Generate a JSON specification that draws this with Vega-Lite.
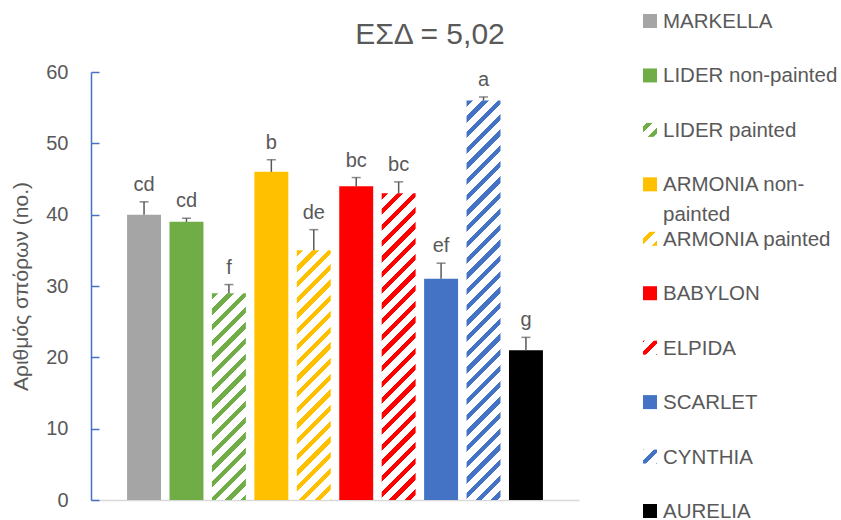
{
  "$schema": "https://vega.github.io/schema/vega-lite/v6.json",
  "background": "white",
  "padding": {"left": 10, "top": 12, "right": 0, "bottom": 0},
  "spacing": 64,
  "config": {"view": {"stroke": null}, "font": "Liberation Sans"},
  "datasets": {
    "bars": [
      {"variety": "MARKELLA", "mean": 40, "upper": 41.8, "group": "cd"},
      {"variety": "LIDER non-painted", "mean": 39, "upper": 39.5, "group": "cd"},
      {"variety": "LIDER painted", "mean": 29, "upper": 30.2, "group": "f"},
      {"variety": "ARMONIA non-painted", "mean": 46, "upper": 47.7, "group": "b"},
      {"variety": "ARMONIA painted", "mean": 35, "upper": 37.9, "group": "de"},
      {"variety": "BABYLON", "mean": 44, "upper": 45.2, "group": "bc"},
      {"variety": "ELPIDA", "mean": 43, "upper": 44.6, "group": "bc"},
      {"variety": "SCARLET", "mean": 31, "upper": 33.2, "group": "ef"},
      {"variety": "CYNTHIA", "mean": 56, "upper": 56.5, "group": "a"},
      {"variety": "AURELIA", "mean": 21, "upper": 22.8, "group": "g"}
    ],
    "legend": [
      {"variety": "MARKELLA", "label": "MARKELLA"},
      {"variety": "LIDER non-painted", "label": "LIDER non-painted"},
      {"variety": "LIDER painted", "label": "LIDER painted"},
      {"variety": "ARMONIA non-painted", "label": "ARMONIA non-\npainted"},
      {"variety": "ARMONIA painted", "label": "ARMONIA painted"},
      {"variety": "BABYLON", "label": "BABYLON"},
      {"variety": "ELPIDA", "label": "ELPIDA"},
      {"variety": "SCARLET", "label": "SCARLET"},
      {"variety": "CYNTHIA", "label": "CYNTHIA"},
      {"variety": "AURELIA", "label": "AURELIA"}
    ]
  },
  "hconcat": [
    {
      "width": 488,
      "height": 428,
      "data": {"name": "bars"},
      "title": {"text": "ΕΣΔ = 5,02", "fontSize": 30, "fontWeight": "normal", "color": "#595959", "anchor": "middle", "dx": 95, "frame": "group", "offset": 12},
      "encoding": {
        "x": {"field": "variety", "type": "nominal", "sort": null,
              "scale": {"type": "band", "paddingInner": 0.2, "paddingOuter": 0.85},
              "axis": {"labels": false, "ticks": false, "title": null, "domainColor": "#D9D9D9", "domainWidth": 1.5}}
      },
      "layer": [
        {
          "mark": {"type": "bar"},
          "encoding": {
            "y": {"field": "mean", "type": "quantitative",
                  "scale": {"domain": [0, 60], "nice": false},
                  "axis": {"values": [0, 10, 20, 30, 40, 50, 60], "grid": false,
                           "domainColor": "#4472C4", "domainWidth": 1.5,
                           "tickColor": "#4472C4", "tickWidth": 1.5, "tickSize": -8,
                           "labelColor": "#595959", "labelFontSize": 20, "labelPadding": 31,
                           "title": "Αριθμός σπόρων (no.)", "titleColor": "#595959", "titleFontSize": 21,
                           "titleFontWeight": "normal", "titlePadding": 14}},
            "fill": {
              "condition": [
                {"test": "datum.variety === 'LIDER painted'", "value": {"gradient": "linear", "x1": 0, "y1": 0, "x2": 0.4851, "y2": 2.9561, "stops": [
                  {"offset":0,"color":"#70AD47"},{"offset":0.01,"color":"#70AD47"},{"offset":0.01,"color":"#ffffff"},{"offset":0.025,"color":"#ffffff"},
                  {"offset":0.025,"color":"#70AD47"},{"offset":0.035,"color":"#70AD47"},{"offset":0.035,"color":"#ffffff"},{"offset":0.05,"color":"#ffffff"},
                  {"offset":0.05,"color":"#70AD47"},{"offset":0.06,"color":"#70AD47"},{"offset":0.06,"color":"#ffffff"},{"offset":0.075,"color":"#ffffff"},
                  {"offset":0.075,"color":"#70AD47"},{"offset":0.085,"color":"#70AD47"},{"offset":0.085,"color":"#ffffff"},{"offset":0.1,"color":"#ffffff"},
                  {"offset":0.1,"color":"#70AD47"},{"offset":0.11,"color":"#70AD47"},{"offset":0.11,"color":"#ffffff"},{"offset":0.125,"color":"#ffffff"},
                  {"offset":0.125,"color":"#70AD47"},{"offset":0.135,"color":"#70AD47"},{"offset":0.135,"color":"#ffffff"},{"offset":0.15,"color":"#ffffff"},
                  {"offset":0.15,"color":"#70AD47"},{"offset":0.16,"color":"#70AD47"},{"offset":0.16,"color":"#ffffff"},{"offset":0.175,"color":"#ffffff"},
                  {"offset":0.175,"color":"#70AD47"},{"offset":0.185,"color":"#70AD47"},{"offset":0.185,"color":"#ffffff"},{"offset":0.2,"color":"#ffffff"},
                  {"offset":0.2,"color":"#70AD47"},{"offset":0.21,"color":"#70AD47"},{"offset":0.21,"color":"#ffffff"},{"offset":0.225,"color":"#ffffff"},
                  {"offset":0.225,"color":"#70AD47"},{"offset":0.235,"color":"#70AD47"},{"offset":0.235,"color":"#ffffff"},{"offset":0.25,"color":"#ffffff"},
                  {"offset":0.25,"color":"#70AD47"},{"offset":0.26,"color":"#70AD47"},{"offset":0.26,"color":"#ffffff"},{"offset":0.275,"color":"#ffffff"},
                  {"offset":0.275,"color":"#70AD47"},{"offset":0.285,"color":"#70AD47"},{"offset":0.285,"color":"#ffffff"},{"offset":0.3,"color":"#ffffff"},
                  {"offset":0.3,"color":"#70AD47"},{"offset":0.31,"color":"#70AD47"},{"offset":0.31,"color":"#ffffff"},{"offset":0.325,"color":"#ffffff"},
                  {"offset":0.325,"color":"#70AD47"},{"offset":0.335,"color":"#70AD47"},{"offset":0.335,"color":"#ffffff"},{"offset":0.35,"color":"#ffffff"},
                  {"offset":0.35,"color":"#70AD47"},{"offset":0.36,"color":"#70AD47"},{"offset":0.36,"color":"#ffffff"},{"offset":0.375,"color":"#ffffff"},
                  {"offset":0.375,"color":"#70AD47"},{"offset":0.385,"color":"#70AD47"},{"offset":0.385,"color":"#ffffff"},{"offset":0.4,"color":"#ffffff"},
                  {"offset":0.4,"color":"#70AD47"},{"offset":0.41,"color":"#70AD47"},{"offset":0.41,"color":"#ffffff"},{"offset":0.425,"color":"#ffffff"}
                ]}},
                {"test": "datum.variety === 'ARMONIA painted'", "value": {"gradient": "linear", "x1": 0, "y1": 0, "x2": 0.3358, "y2": 2.4698, "stops": [
                  {"offset":0,"color":"#FFC000"},{"offset":0.01,"color":"#FFC000"},{"offset":0.01,"color":"#ffffff"},{"offset":0.025,"color":"#ffffff"},
                  {"offset":0.025,"color":"#FFC000"},{"offset":0.035,"color":"#FFC000"},{"offset":0.035,"color":"#ffffff"},{"offset":0.05,"color":"#ffffff"},
                  {"offset":0.05,"color":"#FFC000"},{"offset":0.06,"color":"#FFC000"},{"offset":0.06,"color":"#ffffff"},{"offset":0.075,"color":"#ffffff"},
                  {"offset":0.075,"color":"#FFC000"},{"offset":0.085,"color":"#FFC000"},{"offset":0.085,"color":"#ffffff"},{"offset":0.1,"color":"#ffffff"},
                  {"offset":0.1,"color":"#FFC000"},{"offset":0.11,"color":"#FFC000"},{"offset":0.11,"color":"#ffffff"},{"offset":0.125,"color":"#ffffff"},
                  {"offset":0.125,"color":"#FFC000"},{"offset":0.135,"color":"#FFC000"},{"offset":0.135,"color":"#ffffff"},{"offset":0.15,"color":"#ffffff"},
                  {"offset":0.15,"color":"#FFC000"},{"offset":0.16,"color":"#FFC000"},{"offset":0.16,"color":"#ffffff"},{"offset":0.175,"color":"#ffffff"},
                  {"offset":0.175,"color":"#FFC000"},{"offset":0.185,"color":"#FFC000"},{"offset":0.185,"color":"#ffffff"},{"offset":0.2,"color":"#ffffff"},
                  {"offset":0.2,"color":"#FFC000"},{"offset":0.21,"color":"#FFC000"},{"offset":0.21,"color":"#ffffff"},{"offset":0.225,"color":"#ffffff"},
                  {"offset":0.225,"color":"#FFC000"},{"offset":0.235,"color":"#FFC000"},{"offset":0.235,"color":"#ffffff"},{"offset":0.25,"color":"#ffffff"},
                  {"offset":0.25,"color":"#FFC000"},{"offset":0.26,"color":"#FFC000"},{"offset":0.26,"color":"#ffffff"},{"offset":0.275,"color":"#ffffff"},
                  {"offset":0.275,"color":"#FFC000"},{"offset":0.285,"color":"#FFC000"},{"offset":0.285,"color":"#ffffff"},{"offset":0.3,"color":"#ffffff"},
                  {"offset":0.3,"color":"#FFC000"},{"offset":0.31,"color":"#FFC000"},{"offset":0.31,"color":"#ffffff"},{"offset":0.325,"color":"#ffffff"},
                  {"offset":0.325,"color":"#FFC000"},{"offset":0.335,"color":"#FFC000"},{"offset":0.335,"color":"#ffffff"},{"offset":0.35,"color":"#ffffff"},
                  {"offset":0.35,"color":"#FFC000"},{"offset":0.36,"color":"#FFC000"},{"offset":0.36,"color":"#ffffff"},{"offset":0.375,"color":"#ffffff"},
                  {"offset":0.375,"color":"#FFC000"},{"offset":0.385,"color":"#FFC000"},{"offset":0.385,"color":"#ffffff"},{"offset":0.4,"color":"#ffffff"},
                  {"offset":0.4,"color":"#FFC000"},{"offset":0.41,"color":"#FFC000"},{"offset":0.41,"color":"#ffffff"},{"offset":0.425,"color":"#ffffff"},
                  {"offset":0.425,"color":"#FFC000"},{"offset":0.435,"color":"#FFC000"},{"offset":0.435,"color":"#ffffff"},{"offset":0.45,"color":"#ffffff"},
                  {"offset":0.45,"color":"#FFC000"},{"offset":0.46,"color":"#FFC000"},{"offset":0.46,"color":"#ffffff"},{"offset":0.475,"color":"#ffffff"}
                ]}},
                {"test": "datum.variety === 'ELPIDA'", "value": {"gradient": "linear", "x1": 0, "y1": 0, "x2": 0.2239, "y2": 2.0226, "stops": [
                  {"offset":0,"color":"#FF0000"},{"offset":0.01,"color":"#FF0000"},{"offset":0.01,"color":"#ffffff"},{"offset":0.025,"color":"#ffffff"},
                  {"offset":0.025,"color":"#FF0000"},{"offset":0.035,"color":"#FF0000"},{"offset":0.035,"color":"#ffffff"},{"offset":0.05,"color":"#ffffff"},
                  {"offset":0.05,"color":"#FF0000"},{"offset":0.06,"color":"#FF0000"},{"offset":0.06,"color":"#ffffff"},{"offset":0.075,"color":"#ffffff"},
                  {"offset":0.075,"color":"#FF0000"},{"offset":0.085,"color":"#FF0000"},{"offset":0.085,"color":"#ffffff"},{"offset":0.1,"color":"#ffffff"},
                  {"offset":0.1,"color":"#FF0000"},{"offset":0.11,"color":"#FF0000"},{"offset":0.11,"color":"#ffffff"},{"offset":0.125,"color":"#ffffff"},
                  {"offset":0.125,"color":"#FF0000"},{"offset":0.135,"color":"#FF0000"},{"offset":0.135,"color":"#ffffff"},{"offset":0.15,"color":"#ffffff"},
                  {"offset":0.15,"color":"#FF0000"},{"offset":0.16,"color":"#FF0000"},{"offset":0.16,"color":"#ffffff"},{"offset":0.175,"color":"#ffffff"},
                  {"offset":0.175,"color":"#FF0000"},{"offset":0.185,"color":"#FF0000"},{"offset":0.185,"color":"#ffffff"},{"offset":0.2,"color":"#ffffff"},
                  {"offset":0.2,"color":"#FF0000"},{"offset":0.21,"color":"#FF0000"},{"offset":0.21,"color":"#ffffff"},{"offset":0.225,"color":"#ffffff"},
                  {"offset":0.225,"color":"#FF0000"},{"offset":0.235,"color":"#FF0000"},{"offset":0.235,"color":"#ffffff"},{"offset":0.25,"color":"#ffffff"},
                  {"offset":0.25,"color":"#FF0000"},{"offset":0.26,"color":"#FF0000"},{"offset":0.26,"color":"#ffffff"},{"offset":0.275,"color":"#ffffff"},
                  {"offset":0.275,"color":"#FF0000"},{"offset":0.285,"color":"#FF0000"},{"offset":0.285,"color":"#ffffff"},{"offset":0.3,"color":"#ffffff"},
                  {"offset":0.3,"color":"#FF0000"},{"offset":0.31,"color":"#FF0000"},{"offset":0.31,"color":"#ffffff"},{"offset":0.325,"color":"#ffffff"},
                  {"offset":0.325,"color":"#FF0000"},{"offset":0.335,"color":"#FF0000"},{"offset":0.335,"color":"#ffffff"},{"offset":0.35,"color":"#ffffff"},
                  {"offset":0.35,"color":"#FF0000"},{"offset":0.36,"color":"#FF0000"},{"offset":0.36,"color":"#ffffff"},{"offset":0.375,"color":"#ffffff"},
                  {"offset":0.375,"color":"#FF0000"},{"offset":0.385,"color":"#FF0000"},{"offset":0.385,"color":"#ffffff"},{"offset":0.4,"color":"#ffffff"},
                  {"offset":0.4,"color":"#FF0000"},{"offset":0.41,"color":"#FF0000"},{"offset":0.41,"color":"#ffffff"},{"offset":0.425,"color":"#ffffff"},
                  {"offset":0.425,"color":"#FF0000"},{"offset":0.435,"color":"#FF0000"},{"offset":0.435,"color":"#ffffff"},{"offset":0.45,"color":"#ffffff"},
                  {"offset":0.45,"color":"#FF0000"},{"offset":0.46,"color":"#FF0000"},{"offset":0.46,"color":"#ffffff"},{"offset":0.475,"color":"#ffffff"},
                  {"offset":0.475,"color":"#FF0000"},{"offset":0.485,"color":"#FF0000"},{"offset":0.485,"color":"#ffffff"},{"offset":0.5,"color":"#ffffff"},
                  {"offset":0.5,"color":"#FF0000"},{"offset":0.51,"color":"#FF0000"},{"offset":0.51,"color":"#ffffff"},{"offset":0.525,"color":"#ffffff"},
                  {"offset":0.525,"color":"#FF0000"},{"offset":0.535,"color":"#FF0000"},{"offset":0.535,"color":"#ffffff"},{"offset":0.55,"color":"#ffffff"},
                  {"offset":0.55,"color":"#FF0000"},{"offset":0.56,"color":"#FF0000"},{"offset":0.56,"color":"#ffffff"},{"offset":0.575,"color":"#ffffff"}
                ]}},
                {"test": "datum.variety === 'CYNTHIA'", "value": {"gradient": "linear", "x1": 0, "y1": 0, "x2": 0.1327, "y2": 1.5608, "stops": [
                  {"offset":0,"color":"#4472C4"},{"offset":0.01,"color":"#4472C4"},{"offset":0.01,"color":"#ffffff"},{"offset":0.025,"color":"#ffffff"},
                  {"offset":0.025,"color":"#4472C4"},{"offset":0.035,"color":"#4472C4"},{"offset":0.035,"color":"#ffffff"},{"offset":0.05,"color":"#ffffff"},
                  {"offset":0.05,"color":"#4472C4"},{"offset":0.06,"color":"#4472C4"},{"offset":0.06,"color":"#ffffff"},{"offset":0.075,"color":"#ffffff"},
                  {"offset":0.075,"color":"#4472C4"},{"offset":0.085,"color":"#4472C4"},{"offset":0.085,"color":"#ffffff"},{"offset":0.1,"color":"#ffffff"},
                  {"offset":0.1,"color":"#4472C4"},{"offset":0.11,"color":"#4472C4"},{"offset":0.11,"color":"#ffffff"},{"offset":0.125,"color":"#ffffff"},
                  {"offset":0.125,"color":"#4472C4"},{"offset":0.135,"color":"#4472C4"},{"offset":0.135,"color":"#ffffff"},{"offset":0.15,"color":"#ffffff"},
                  {"offset":0.15,"color":"#4472C4"},{"offset":0.16,"color":"#4472C4"},{"offset":0.16,"color":"#ffffff"},{"offset":0.175,"color":"#ffffff"},
                  {"offset":0.175,"color":"#4472C4"},{"offset":0.185,"color":"#4472C4"},{"offset":0.185,"color":"#ffffff"},{"offset":0.2,"color":"#ffffff"},
                  {"offset":0.2,"color":"#4472C4"},{"offset":0.21,"color":"#4472C4"},{"offset":0.21,"color":"#ffffff"},{"offset":0.225,"color":"#ffffff"},
                  {"offset":0.225,"color":"#4472C4"},{"offset":0.235,"color":"#4472C4"},{"offset":0.235,"color":"#ffffff"},{"offset":0.25,"color":"#ffffff"},
                  {"offset":0.25,"color":"#4472C4"},{"offset":0.26,"color":"#4472C4"},{"offset":0.26,"color":"#ffffff"},{"offset":0.275,"color":"#ffffff"},
                  {"offset":0.275,"color":"#4472C4"},{"offset":0.285,"color":"#4472C4"},{"offset":0.285,"color":"#ffffff"},{"offset":0.3,"color":"#ffffff"},
                  {"offset":0.3,"color":"#4472C4"},{"offset":0.31,"color":"#4472C4"},{"offset":0.31,"color":"#ffffff"},{"offset":0.325,"color":"#ffffff"},
                  {"offset":0.325,"color":"#4472C4"},{"offset":0.335,"color":"#4472C4"},{"offset":0.335,"color":"#ffffff"},{"offset":0.35,"color":"#ffffff"},
                  {"offset":0.35,"color":"#4472C4"},{"offset":0.36,"color":"#4472C4"},{"offset":0.36,"color":"#ffffff"},{"offset":0.375,"color":"#ffffff"},
                  {"offset":0.375,"color":"#4472C4"},{"offset":0.385,"color":"#4472C4"},{"offset":0.385,"color":"#ffffff"},{"offset":0.4,"color":"#ffffff"},
                  {"offset":0.4,"color":"#4472C4"},{"offset":0.41,"color":"#4472C4"},{"offset":0.41,"color":"#ffffff"},{"offset":0.425,"color":"#ffffff"},
                  {"offset":0.425,"color":"#4472C4"},{"offset":0.435,"color":"#4472C4"},{"offset":0.435,"color":"#ffffff"},{"offset":0.45,"color":"#ffffff"},
                  {"offset":0.45,"color":"#4472C4"},{"offset":0.46,"color":"#4472C4"},{"offset":0.46,"color":"#ffffff"},{"offset":0.475,"color":"#ffffff"},
                  {"offset":0.475,"color":"#4472C4"},{"offset":0.485,"color":"#4472C4"},{"offset":0.485,"color":"#ffffff"},{"offset":0.5,"color":"#ffffff"},
                  {"offset":0.5,"color":"#4472C4"},{"offset":0.51,"color":"#4472C4"},{"offset":0.51,"color":"#ffffff"},{"offset":0.525,"color":"#ffffff"},
                  {"offset":0.525,"color":"#4472C4"},{"offset":0.535,"color":"#4472C4"},{"offset":0.535,"color":"#ffffff"},{"offset":0.55,"color":"#ffffff"},
                  {"offset":0.55,"color":"#4472C4"},{"offset":0.56,"color":"#4472C4"},{"offset":0.56,"color":"#ffffff"},{"offset":0.575,"color":"#ffffff"},
                  {"offset":0.575,"color":"#4472C4"},{"offset":0.585,"color":"#4472C4"},{"offset":0.585,"color":"#ffffff"},{"offset":0.6,"color":"#ffffff"},
                  {"offset":0.6,"color":"#4472C4"},{"offset":0.61,"color":"#4472C4"},{"offset":0.61,"color":"#ffffff"},{"offset":0.625,"color":"#ffffff"},
                  {"offset":0.625,"color":"#4472C4"},{"offset":0.635,"color":"#4472C4"},{"offset":0.635,"color":"#ffffff"},{"offset":0.65,"color":"#ffffff"},
                  {"offset":0.65,"color":"#4472C4"},{"offset":0.66,"color":"#4472C4"},{"offset":0.66,"color":"#ffffff"},{"offset":0.675,"color":"#ffffff"},
                  {"offset":0.675,"color":"#4472C4"},{"offset":0.685,"color":"#4472C4"},{"offset":0.685,"color":"#ffffff"},{"offset":0.7,"color":"#ffffff"}
                ]}}
              ],
              "field": "variety", "type": "nominal", "legend": null,
              "scale": {"domain": ["MARKELLA", "LIDER non-painted", "LIDER painted", "ARMONIA non-painted", "ARMONIA painted", "BABYLON", "ELPIDA", "SCARLET", "CYNTHIA", "AURELIA"],
                        "range": ["#A5A5A5", "#70AD47", "#70AD47", "#FFC000", "#FFC000", "#FF0000", "#FF0000", "#4472C4", "#4472C4", "#000000"]}
            }
          }
        },
        {
          "mark": {"type": "rule", "color": "#595959", "strokeWidth": 1.5},
          "encoding": {"y": {"field": "mean", "type": "quantitative"}, "y2": {"field": "upper"}}
        },
        {
          "mark": {"type": "tick", "color": "#595959", "size": 9, "thickness": 1.5},
          "encoding": {"y": {"field": "upper", "type": "quantitative"}}
        },
        {
          "mark": {"type": "text", "color": "#595959", "fontSize": 20, "baseline": "alphabetic", "dy": -11},
          "encoding": {"y": {"field": "upper", "type": "quantitative"}, "text": {"field": "group"}}
        }
      ]
    },
    {
      "width": 14,
      "height": 428,
      "data": {"name": "legend"},
      "encoding": {
        "y": {"field": "variety", "type": "nominal", "sort": null, "scale": {"type": "point", "padding": 0, "range": [-51, 439]}, "axis": null}
      },
      "layer": [
        {
          "mark": {"type": "point", "shape": "square", "size": 196, "filled": true, "strokeWidth": 0, "opacity": 1},
          "encoding": {
            "fill": {
              "condition": [
                {"test": "datum.variety === 'LIDER painted'", "value": {"gradient": "linear", "x1": 0, "y1": 0, "x2": 1, "y2": 1, "stops": [
                  {"offset":0,"color":"#ffffff"},{"offset":0.12,"color":"#ffffff"},{"offset":0.12,"color":"#70AD47"},{"offset":0.33,"color":"#70AD47"},{"offset":0.33,"color":"#ffffff"},{"offset":0.68,"color":"#ffffff"},{"offset":0.68,"color":"#70AD47"},{"offset":0.89,"color":"#70AD47"},{"offset":0.89,"color":"#ffffff"},{"offset":1,"color":"#ffffff"}]}},
                {"test": "datum.variety === 'ARMONIA painted'", "value": {"gradient": "linear", "x1": 0, "y1": 0, "x2": 1, "y2": 1, "stops": [
                  {"offset":0,"color":"#ffffff"},{"offset":0.25,"color":"#ffffff"},{"offset":0.25,"color":"#FFC000"},{"offset":0.46,"color":"#FFC000"},{"offset":0.46,"color":"#ffffff"},{"offset":0.81,"color":"#ffffff"},{"offset":0.81,"color":"#FFC000"},{"offset":1,"color":"#FFC000"}]}},
                {"test": "datum.variety === 'ELPIDA'", "value": {"gradient": "linear", "x1": 0, "y1": 0, "x2": 1, "y2": 1, "stops": [
                  {"offset":0,"color":"#FF0000"},{"offset":0.05,"color":"#FF0000"},{"offset":0.05,"color":"#ffffff"},{"offset":0.39,"color":"#ffffff"},{"offset":0.39,"color":"#FF0000"},{"offset":0.61,"color":"#FF0000"},{"offset":0.61,"color":"#ffffff"},{"offset":0.95,"color":"#ffffff"},{"offset":0.95,"color":"#FF0000"},{"offset":1,"color":"#FF0000"}]}},
                {"test": "datum.variety === 'CYNTHIA'", "value": {"gradient": "linear", "x1": 0, "y1": 0, "x2": 1, "y2": 1, "stops": [
                  {"offset":0,"color":"#4472C4"},{"offset":0.05,"color":"#4472C4"},{"offset":0.05,"color":"#ffffff"},{"offset":0.39,"color":"#ffffff"},{"offset":0.39,"color":"#4472C4"},{"offset":0.61,"color":"#4472C4"},{"offset":0.61,"color":"#ffffff"},{"offset":0.95,"color":"#ffffff"},{"offset":0.95,"color":"#4472C4"},{"offset":1,"color":"#4472C4"}]}}
              ],
              "field": "variety", "type": "nominal", "legend": null,
              "scale": {"domain": ["MARKELLA", "LIDER non-painted", "LIDER painted", "ARMONIA non-painted", "ARMONIA painted", "BABYLON", "ELPIDA", "SCARLET", "CYNTHIA", "AURELIA"],
                        "range": ["#A5A5A5", "#A9D18E", "#70AD47", "#FFC000", "#FFC000", "#FF0000", "#FF0000", "#9E480E", "#4472C4", "#000000"]}
            }
          }
        },
        {
          "mark": {"type": "text", "align": "left", "baseline": "alphabetic", "dx": 13, "dy": 7, "fontSize": 20.5, "color": "#595959", "lineBreak": "\n", "lineHeight": 30},
          "encoding": {"text": {"field": "label"}}
        }
      ]
    }
  ]
}
